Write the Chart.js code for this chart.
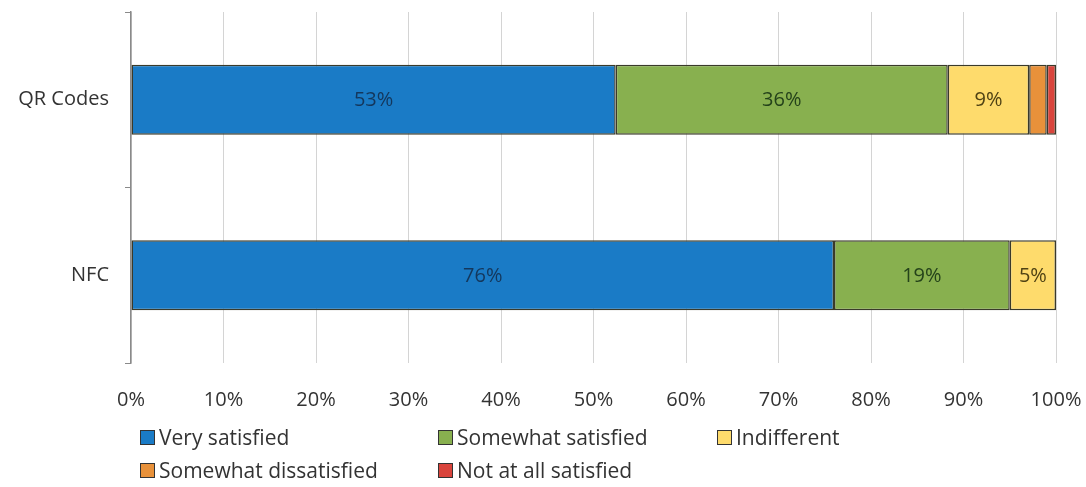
<!DOCTYPE html>
<html>
<head>
<meta charset="utf-8">
<script src="https://cdn.jsdelivr.net/npm/chart.js@4/dist/chart.umd.min.js"></script>
<style>
  html, body { margin: 0; padding: 0; background: #fff; }
  #wrap { position: relative; width: 1086px; height: 487px; }
  #legend {
    position: absolute; left: 140px; top: 424px;
    display: grid; grid-template-columns: 298px 279px 279px;
    row-gap: 7px;
    font-family: "Open Sans", sans-serif; font-size: 21px; color: #333;
  }
  .item { display: flex; align-items: center; height: 26px; }
  .box { width: 13px; height: 13px; border: 1px solid #333; margin-right: 4px; }
</style>
</head>
<body>
<div id="wrap">
  <canvas id="chart" width="1086" height="487"></canvas>
  <div id="legend"></div>
</div>
<script>
const categories = ['QR Codes', 'NFC'];
const seriesNames = ['Very satisfied', 'Somewhat satisfied', 'Indifferent', 'Somewhat dissatisfied', 'Not at all satisfied'];
const verySatisfied = [52.4, 76.0];
const somewhatSatisfied = [35.9, 19.0];
const indifferent = [8.8, 5.0];
const somewhatDissatisfied = [1.9, 0];
const notAtAllSatisfied = [1.0, 0];
// printed labels inside the bars
const verySatisfiedLabels = ['53%', '76%'];
const somewhatSatisfiedLabels = ['36%', '19%'];
const indifferentLabels = ['9%', '5%'];
const xTicks = [0, 10, 20, 30, 40, 50, 60, 70, 80, 90, 100];

const colors = ['#1a7bc6', '#88b04f', '#fedb6c', '#e8913a', '#d9443c'];
const labelColors = ['#14375c', '#24421a', '#4f4214', '#333', '#333'];

const values = [verySatisfied, somewhatSatisfied, indifferent, somewhatDissatisfied, notAtAllSatisfied];
const labels = [verySatisfiedLabels, somewhatSatisfiedLabels, indifferentLabels, null, null];

const datasets = seriesNames.map((name, i) => ({
    label: name,
    data: values[i],
    backgroundColor: colors[i],
    borderColor: '#3a3a2a',
    borderWidth: 1.5,
    borderSkipped: false,
    categoryPercentage: 1,
    barPercentage: 0.4,
    valueLabels: labels[i],
    labelColor: labelColors[i]
}));

// draw the percentage text in the middle of each segment
const segmentLabels = {
    id: 'segmentLabels',
    afterDatasetsDraw(chart) {
        const ctx = chart.ctx;
        ctx.save();
        ctx.font = '20px "Open Sans", sans-serif';
        ctx.textAlign = 'center';
        ctx.textBaseline = 'middle';
        chart.data.datasets.forEach((ds, i) => {
            if (!ds.valueLabels) return;
            chart.getDatasetMeta(i).data.forEach((bar, j) => {
                const text = ds.valueLabels[j];
                if (!text) return;
                const mid = (bar.x + bar.base) / 2;
                ctx.fillStyle = ds.labelColor;
                ctx.fillText(text, mid, bar.y + 1);
            });
        });
        ctx.restore();
    }
};

const chart = new Chart(document.getElementById('chart'), {
    type: 'bar',
    data: { labels: categories, datasets: datasets },
    plugins: [segmentLabels],
    options: {
        indexAxis: 'y',
        responsive: false,
        animation: false,
        layout: { padding: { top: 12, right: 30, left: 0, bottom: 0 } },
        plugins: { legend: { display: false }, tooltip: { enabled: false } },
        scales: {
            x: {
                stacked: true,
                min: 0,
                max: 100,
                afterBuildTicks: (scale) => { scale.ticks = xTicks.map(v => ({ value: v })); },
                afterFit: (scale) => {
                    scale.height = 124;
                    scale.paddingLeft = 0;
                    scale.paddingRight = 0;
                },
                border: { display: false },
                grid: { color: '#d4d4d4', lineWidth: 1, drawTicks: false },
                ticks: {
                    padding: 25,
                    color: '#333',
                    font: { family: '"Open Sans", sans-serif', size: 20 },
                    callback: (v) => v + '%'
                }
            },
            y: {
                stacked: true,
                afterFit: (scale) => {
                    scale.width = 131;
                    scale.paddingTop = 0;
                    scale.paddingBottom = 0;
                },
                border: { display: true, color: '#8a8a8a', width: 1.5 },
                grid: { drawOnChartArea: false, tickLength: 6, color: '#8a8a8a' },
                ticks: {
                    padding: 16,
                    color: '#333',
                    font: { family: '"Open Sans", sans-serif', size: 20 }
                }
            }
        }
    }
});

// legend laid out in columns under the chart
const legend = document.getElementById('legend');
chart.data.datasets.forEach((ds) => {
    const item = document.createElement('div');
    item.className = 'item';
    const box = document.createElement('span');
    box.className = 'box';
    box.style.background = ds.backgroundColor;
    item.appendChild(box);
    item.appendChild(document.createTextNode(ds.label));
    legend.appendChild(item);
});
</script>
</body>
</html>
